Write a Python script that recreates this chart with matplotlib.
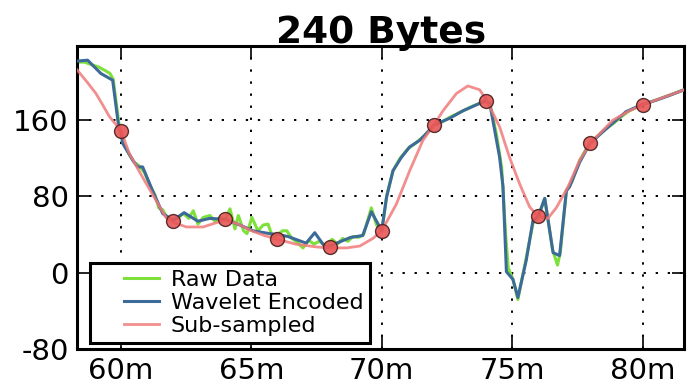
import matplotlib
matplotlib.use("Agg")
import numpy as np
import matplotlib.pyplot as plt
from matplotlib.legend_handler import HandlerLine2D

# ---------------------------------------
# DATA
# ---------------------------------------
raw_x = [58.28, 58.6, 58.9, 59.13, 59.4, 59.58, 59.7, 59.95, 60.1, 60.3, 60.5,
         60.7, 60.9, 61.1, 61.3, 61.45, 61.6, 61.8, 62.0, 62.2, 62.4, 62.6,
         62.77, 62.95, 63.15, 63.41, 63.6, 63.8, 64.0, 64.18, 64.37, 64.5,
         64.7, 64.83, 65.02, 65.25, 65.45, 65.64, 65.84, 66.0, 66.2, 66.36,
         66.55, 66.75, 66.98, 67.2, 67.4, 67.6, 67.85, 68.1, 68.3, 68.5,
         68.7, 68.9, 69.1, 69.3, 69.6, 69.8, 70.0, 70.2, 70.43, 70.7, 71.0,
         71.3, 71.6, 71.85, 72.0, 72.3, 72.6, 72.9, 73.2, 73.5, 73.95, 74.14,
         74.4, 74.6, 74.75, 74.85, 75.03, 75.22, 75.5, 75.8, 76.0, 76.25,
         76.55, 76.74, 76.85, 77.08, 77.3, 77.59, 77.97, 78.3, 78.6, 78.9,
         79.2, 79.5, 79.95, 80.3, 80.7, 81.1, 81.6]
raw_y = [221, 221, 218, 216, 212, 209, 203, 150, 135, 125, 116,
         112, 105, 92, 82, 68, 66, 56, 55, 58, 62, 57,
         65, 51, 58, 60, 54, 58, 56, 67, 46, 60,
         44, 41, 58, 44, 50, 51, 35, 40, 44, 44,
         36, 32, 26, 34, 30, 33, 28, 35, 30, 36,
         33, 38, 37, 40, 68, 50, 44, 82, 107, 120, 130,
         136, 143, 150, 155, 158, 163, 167, 171, 175, 180, 178,
         145, 110, 40, 5, -7, -28, 10, 52, 59, 78,
         24, 8, 22, 86, 96, 118, 136, 144, 151, 157,
         164, 170, 176, 179, 183, 187, 192]

wav_x = [58.28, 58.72, 59.23, 59.68, 59.92, 60.0, 60.06, 60.45, 60.64, 60.83,
         61.21, 61.6, 62.0, 62.42, 62.95, 63.4, 64.0, 64.56, 65.06, 65.7,
         66.0, 66.4, 67.1, 67.43, 67.85, 68.27, 68.8, 69.27, 69.6, 70.0,
         70.18, 70.43, 70.75, 71.07, 71.46, 71.71, 72.0, 72.6, 73.12, 73.95,
         74.14, 74.52, 74.65, 74.78, 75.03, 75.22, 75.54, 75.8, 76.0, 76.25,
         76.57, 76.82, 77.08, 77.2, 77.59, 77.97, 78.48, 78.86, 79.37, 79.95,
         80.52, 81.03, 81.6]
wav_y = [222, 223, 209, 202, 151, 149, 136, 118, 111, 111,
         86, 62, 55, 63, 54, 57, 56, 50, 44, 41,
         40, 38, 31, 42, 26, 31, 37, 39, 64, 44,
         79, 107, 121, 132, 139, 146, 155, 162, 170, 180,
         178, 121, 90, 1, -7, -26, 13, 55, 59, 78,
         21, 18, 86, 90, 116, 135, 148, 157, 169, 176,
         181, 186, 192]

sub_curve_x = [58.28, 58.7, 59.04, 59.3, 59.55, 60.0, 60.32, 60.83, 61.34, 61.72,
               62.0, 62.5, 63.15, 63.6, 64.0, 64.5, 65.0, 65.5, 66.0, 66.7,
               67.5, 68.0, 68.65, 69.16, 69.66, 70.0, 70.56, 71.07, 71.58, 72.0,
               72.35, 72.86, 73.3, 73.75, 74.0, 74.52, 74.9, 75.29, 75.67, 76.0,
               76.37, 76.69, 77.14, 77.59, 78.0, 78.86, 79.5, 80.0, 80.6, 81.1,
               81.6]
sub_curve_y = [214, 200, 188, 176, 164, 149, 125, 100, 76, 58,
               53, 48, 48, 52, 55, 51, 44, 39, 35, 30,
               27, 26, 26, 28, 36, 44, 72, 107, 139, 155,
               170, 188, 196, 192, 182, 153, 121, 93, 69, 59,
               57, 68, 90, 118, 136, 160, 170, 176, 182, 187,
               192]

sample_x = [60, 62, 64, 66, 68, 70, 72, 74, 76, 78, 80]
sample_y = [149, 54, 56, 35, 27, 44, 155, 180, 59, 136, 176]

xtick_pos = [60, 65, 70, 75, 80]
xtick_labels = ["60m", "65m", "70m", "75m", "80m"]
ytick_pos = [-80, 0, 80, 160]
ytick_labels = ["-80", "0", "80", "160"]


# legend handle: only draw the right part of the handle box
class ShortLine(HandlerLine2D):
    def get_xdata(self, legend, xdescent, ydescent, width, height, fontsize):
        xd = np.array([-xdescent + 0.45 * width, -xdescent + width])
        return xd, xd


# ---------------------------------------
# FIGURE
# ---------------------------------------
fig = plt.figure(figsize=(6.87, 3.89), dpi=100)
ax = fig.add_axes([0.112, 0.103, 0.884, 0.779])

l1, = ax.plot(raw_x, raw_y, color='#7ee03a', lw=2.2, label='Raw Data', zorder=2)
l2, = ax.plot(wav_x, wav_y, color='#3d6b99', lw=2.2, label='Wavelet Encoded', zorder=3)
l3, = ax.plot(sub_curve_x, sub_curve_y, color='#f07a7a', lw=2.0, alpha=0.85,
              label='Sub-sampled', zorder=4)
ax.plot(sample_x, sample_y, 'o', ms=10, mfc='#e85656', mec='#4a2020',
        mew=1.0, alpha=0.9, zorder=5)

ax.set_xlim(58.31, 81.6)
ax.set_ylim(-80, 238)

ax.set_xticks(xtick_pos)
ax.set_xticklabels(xtick_labels)
ax.set_yticks(ytick_pos)
ax.set_yticklabels(ytick_labels)
ax.tick_params(direction='in', length=9, width=1.2, labelsize=21,
               top=True, right=True, pad=6)

ax.grid(True, color='k', linestyle=(0, (1.2, 5)), lw=1.4)

for s in ax.spines.values():
    s.set_linewidth(2.2)

ax.set_title("240 Bytes", fontsize=27, fontweight='bold', pad=2)

leg = ax.legend(handler_map={l1: ShortLine(), l2: ShortLine(), l3: ShortLine()},
                loc='lower left', fontsize=16, fancybox=False,
                framealpha=1, edgecolor='k', handlelength=2.8,
                borderpad=0.3, labelspacing=0.15, handletextpad=0.55,
                borderaxespad=0, bbox_to_anchor=(0.021, 0.02))
leg.get_frame().set_linewidth(2.2)

fig.savefig("out.png", dpi=100)
